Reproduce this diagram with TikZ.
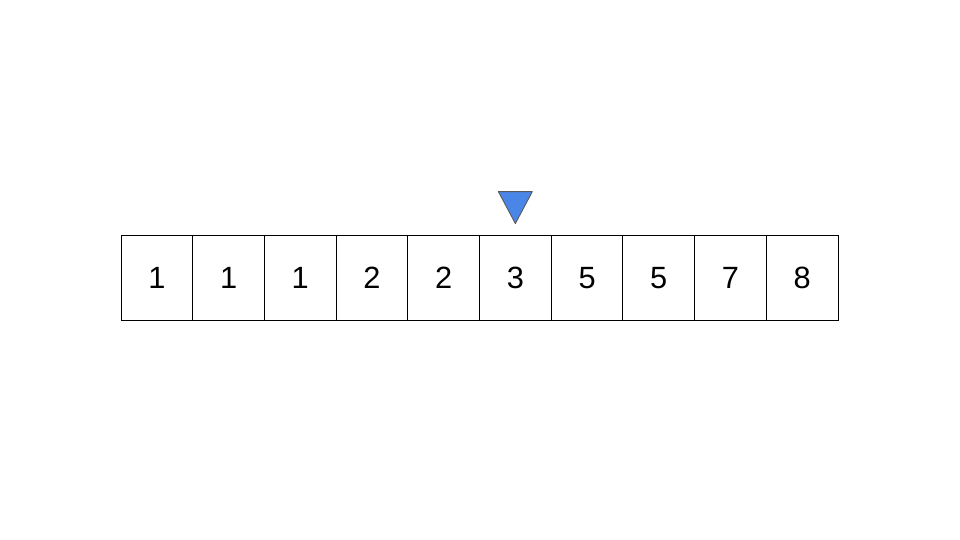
\documentclass[tikz,border=0pt]{standalone}
\usepackage{fontspec}
\setmainfont{Liberation Sans}
\definecolor{markerblue}{HTML}{4A86E8}
\definecolor{markeredge}{HTML}{595959}
\tikzset{
	cell/.style={draw=black,line width=0.5pt,minimum width=1.434cm,minimum height=1.7cm,inner sep=0pt,text height=12.6pt,text depth=0pt,font=\fontsize{17.5}{21}\selectfont},
	marker/.style={fill=markerblue,draw=markeredge,line width=0.5pt,line join=round}
}
\begin{document}
\begin{tikzpicture}[x=0.02cm,y=-0.02cm]
			\useasboundingbox (0,0) rectangle (960,540);
			\foreach \v [count=\i] in {1,1,1,2,2,3,5,5,7,8}
				\node[cell] (c\i) at ({121+71.7*(\i-0.5)},277.5) {\v};
			\coordinate (tip) at ([yshift=0.22cm]c6.north);
			\filldraw[marker] (tip) -- ++(-17,-32) -- ++(34,0) -- cycle;
		\end{tikzpicture}
\end{document}
